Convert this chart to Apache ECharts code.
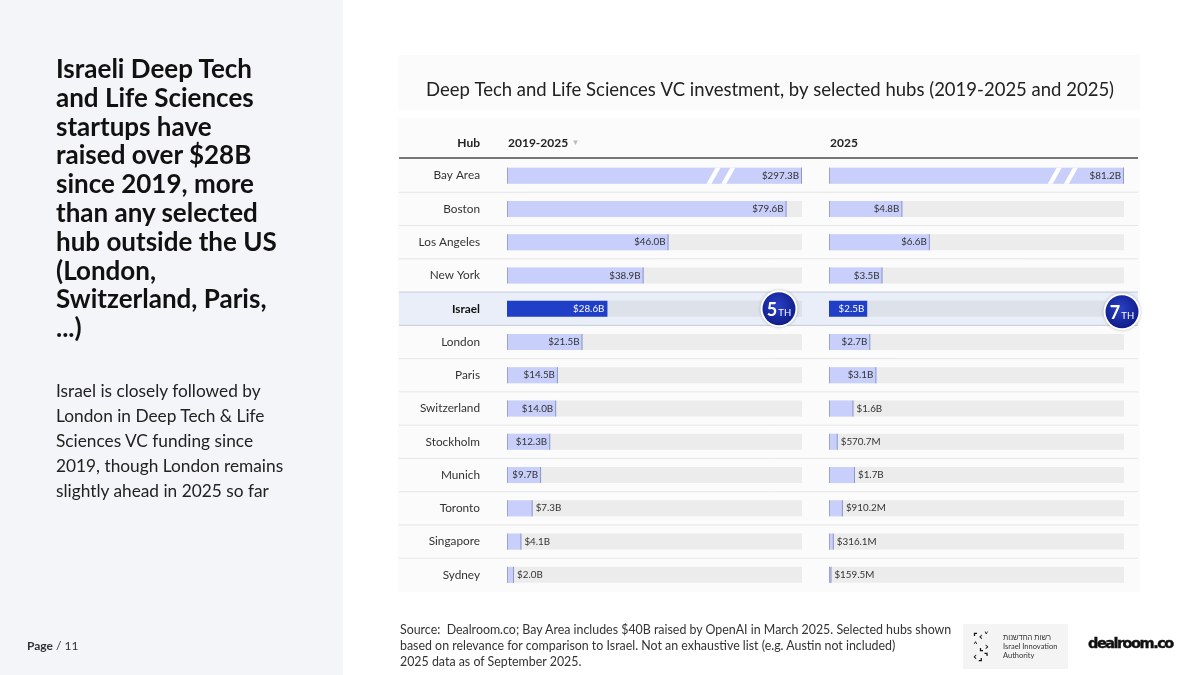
<!DOCTYPE html>
<html><head><meta charset="utf-8">
<script src="https://cdn.jsdelivr.net/npm/echarts@6/dist/echarts.min.js"></script>
<style>
html,body{margin:0;padding:0;width:1200px;height:675px;overflow:hidden;background:#fff;font-family:Lato,"Noto Sans",sans-serif;}
#leftpanel{position:absolute;left:0;top:0;width:343px;height:675px;background:#f4f5f9;}
#chart{position:absolute;left:0;top:0;width:1200px;height:675px;}
.txt{position:absolute;white-space:nowrap;}
#headline{left:56px;top:54px;font-weight:700;font-size:26px;line-height:28.8px;color:#111;}
#bodytext{left:56px;top:378px;font-size:17.3px;line-height:25px;color:#222;}
#page{left:27px;top:638px;font-size:12px;color:#333;}
#source{left:400px;top:622px;font-size:12.4px;line-height:16px;color:#333;}
#iia{left:963px;top:624px;width:105px;height:45px;background:#f4f4f4;}
#iia .icon{position:absolute;left:10px;top:8px;font-size:10px;line-height:10px;font-weight:900;color:#111;letter-spacing:1px;font-family:"DejaVu Sans",sans-serif;}
#iia .name{position:absolute;left:40px;top:9px;font-size:7.5px;line-height:9px;color:#333;}
#dealroom{left:1088px;top:635px;font-family:"DejaVu Sans",sans-serif;font-weight:900;font-size:14.5px;letter-spacing:-1.5px;color:#111;-webkit-text-stroke:0.4px #111;}
</style></head>
<body>
<div id="leftpanel"></div>
<div id="chart"></div>
<div class="txt" id="headline">Israeli Deep Tech<br>and Life Sciences<br>startups have<br>raised over $28B<br>since 2019, more<br>than any selected<br>hub outside the US<br>(London,<br>Switzerland, Paris,<br>...)</div>
<div class="txt" id="bodytext">Israel is closely followed by<br>London in Deep Tech &amp; Life<br>Sciences VC funding since<br>2019, though London remains<br>slightly ahead in 2025 so far</div>
<div class="txt" id="page"><b>Page</b> / 11</div>
<div class="txt" id="source">Source:&nbsp; Dealroom.co; Bay Area includes $40B raised by OpenAI in March 2025. Selected hubs shown<br>based on relevance for comparison to Israel. Not an exhaustive list (e.g. Austin not included)<br>2025 data as of September 2025.</div>
<div class="txt" id="iia"><div class="icon">⌜‹˅<br>˄⌞›<br>‹⌟⌝</div><div class="name">רשות החדשנות<br>Israel Innovation<br>Authority</div></div>
<div class="txt" id="dealroom">dealroom.co</div>
<script>
// ---- data ----
const hubs = ['Bay Area','Boston','Los Angeles','New York','Israel','London','Paris','Switzerland','Stockholm','Munich','Toronto','Singapore','Sydney'];
const vc2019_2025 = [297.3,79.6,46.0,38.9,28.6,21.5,14.5,14.0,12.3,9.7,7.3,4.1,2.0]; // $B
const vc2025 = [81.2,4.8,6.6,3.5,2.5,2.7,3.1,1.6,0.5707,1.7,0.9102,0.3161,0.1595]; // $B
const columnTitles = ['2019-2025','2025'];
const highlightHub = 'Israel';
const israelRanks = [5,7];
const rankSuffix = 'TH';
const chartTitle = 'Deep Tech and Life Sciences VC investment, by selected hubs (2019-2025 and 2025)';

// ---- scales / style ----
const LEFT_MAX = 84, RIGHT_MAX = 19.3;
const FONT = 'Lato, "Noto Sans", sans-serif';
const GRID_TOP = 159, GRID_H = 432.5;

function fmt(v){ return v < 1 ? '$' + (v*1000).toFixed(1) + 'M' : '$' + v.toFixed(1) + 'B'; }

function renderRow(params, api){
  const idx = api.value(1);
  const p0 = api.coord([0, idx]), p1 = api.coord([1, idx]);
  const h = api.size([0,1])[1];
  const top = p0[1]-h/2, bot = p0[1]+h/2;
  const ch = [];
  if (hubs[idx] === highlightHub){
    ch.push({type:'rect', shape:{x:p0[0], y:top, width:p1[0]-p0[0], height:h}, style:{fill:'#e9eef8'}});
    ch.push({type:'line', shape:{x1:p0[0], y1:top, x2:p1[0], y2:top}, style:{stroke:'#c4cad8', lineWidth:1}});
    ch.push({type:'line', shape:{x1:p0[0], y1:bot, x2:p1[0], y2:bot}, style:{stroke:'#c4cad8', lineWidth:1}});
  } else if (idx < hubs.length-1 && hubs[idx+1] !== highlightHub){
    ch.push({type:'line', shape:{x1:p0[0], y1:bot, x2:p1[0], y2:bot}, style:{stroke:'#e6e6e6', lineWidth:1}});
  }
  return {type:'group', children:ch};
}

function makeBarRenderer(maxV, rank, breakFrac, badgeDx, badgeDy){
  return function(params, api){
    const v = api.value(0), idx = api.value(1);
    const hl = hubs[idx] === highlightHub;
    const s = api.coord([0, idx]), e = api.coord([maxV, idx]);
    const b = api.coord([Math.min(v, maxV), idx]);
    const bh = 16, y = s[1]-bh/2, cy = s[1];
    const ch = [];
    ch.push({type:'rect', shape:{x:s[0], y:y, width:e[0]-s[0], height:bh}, style:{fill: hl ? '#dce1ea' : '#ececec'}});
    ch.push({type:'rect', shape:{x:s[0], y:y, width:b[0]-s[0], height:bh}, style:{fill: hl ? '#1e3fc6' : '#c7cffa'}});
    if (!hl){
      ch.push({type:'line', shape:{x1:s[0]+0.5, y1:y, x2:s[0]+0.5, y2:y+bh}, style:{stroke:'#9aa4cf', lineWidth:1}});
      ch.push({type:'line', shape:{x1:b[0]-0.5, y1:y, x2:b[0]-0.5, y2:y+bh}, style:{stroke:'#8e99c9', lineWidth:1}});
    }
    if (v > maxV){
      breakFrac.forEach(f => {
        const x = s[0] + (e[0]-s[0])*f;
        ch.push({type:'polygon', shape:{points:[[x-7,y+bh],[x-2,y+bh],[x+7,y],[x+2,y]]}, style:{fill:'#ffffff'}});
      });
    }
    const w = b[0]-s[0];
    const inside = w >= 32;
    ch.push({type:'text', style:{
      x: inside ? b[0]-3 : b[0]+3, y: cy, text: fmt(v),
      align: inside ? 'right' : 'left', verticalAlign:'middle',
      fill: hl ? '#ffffff' : '#333333', font: '9.8px ' + FONT
    }});
    if (hl){
      const bx = e[0] + badgeDx, by = cy + badgeDy;
      ch.push({type:'circle', shape:{cx:bx, cy:by, r:18.5}, style:{fill:'#ffffff', shadowBlur:3, shadowColor:'rgba(0,0,0,0.25)'}});
      ch.push({type:'circle', shape:{cx:bx, cy:by, r:16.5}, style:{fill:{type:'radial', x:0.45, y:0.4, r:0.6, colorStops:[{offset:0,color:'#2a41c6'},{offset:1,color:'#0f1c8a'}]}}});
      ch.push({type:'text', style:{x:bx, y:by, text:'{n|'+rank+'}{s|'+rankSuffix+'}', align:'center', verticalAlign:'middle',
        rich:{n:{fontSize:18, fontWeight:'bold', fill:'#fff', fontFamily:FONT, lineHeight:20, verticalAlign:'bottom'},
              s:{fontSize:9.5, fill:'#fff', fontFamily:FONT, lineHeight:18, verticalAlign:'bottom', padding:[0,0,1,1]}}}});
    }
    return {type:'group', children:ch};
  };
}

const chart = echarts.init(document.getElementById('chart'), null, {renderer:'canvas'});
const catAxis = (gi, show) => ({
  type:'category', gridIndex:gi, data:hubs, inverse:true, z:20,
  axisLine:{show:false}, axisTick:{show:false}, splitLine:{show:false},
  axisLabel:{show:show, margin:27, fontSize:11.8, color:'#333', fontFamily:FONT,
    formatter: v => v === highlightHub ? '{b|'+v+'}' : v,
    rich:{b:{fontWeight:'bold', color:'#111', fontSize:11.8, fontFamily:FONT}}}
});
const valAxis = (gi, max) => ({type:'value', gridIndex:gi, min:0, max:max, show:false});

chart.setOption({
  animation:false,
  grid:[
    {left:399, width:739, top:GRID_TOP, height:GRID_H},
    {left:507, width:295, top:GRID_TOP, height:GRID_H},
    {left:829, width:295, top:GRID_TOP, height:GRID_H}
  ],
  xAxis:[valAxis(0,1), valAxis(1,LEFT_MAX), valAxis(2,RIGHT_MAX)],
  yAxis:[catAxis(0,false), catAxis(1,true), catAxis(2,false)],
  graphic:[
    {type:'rect', z:-10, shape:{x:398, y:55, width:742, height:55}, style:{fill:'#fbfbfb'}},
    {type:'rect', z:-10, shape:{x:398, y:118, width:742, height:474}, style:{fill:'#fbfbfb'}},
    {type:'text', x:770, y:90, style:{text:chartTitle, align:'center', verticalAlign:'middle', font:'18.5px '+FONT, fill:'#222'}},
    {type:'text', x:480, y:143, style:{text:'Hub', align:'right', verticalAlign:'middle', font:'bold 12px '+FONT, fill:'#222'}},
    {type:'text', x:508, y:143, style:{text:'{a|'+columnTitles[0]+'} {t|▼}', verticalAlign:'middle',
      rich:{a:{fontWeight:'bold', fontSize:12, fontFamily:FONT, fill:'#222'}, t:{fontSize:8, fill:'#bbb'}}}},
    {type:'text', x:830, y:143, style:{text:columnTitles[1], verticalAlign:'middle', font:'bold 12px '+FONT, fill:'#222'}},
    {type:'line', shape:{x1:399, y1:158, x2:1138, y2:158}, style:{stroke:'#4a4a4a', lineWidth:1.5}}
  ],
  series:[
    {type:'custom', xAxisIndex:0, yAxisIndex:0, z:1, renderItem:renderRow, data:hubs.map((h,i)=>[1,i])},
    {type:'custom', xAxisIndex:1, yAxisIndex:1, z:5, renderItem:makeBarRenderer(LEFT_MAX, israelRanks[0], [0.70,0.75], -23, 0), data:vc2019_2025.map((v,i)=>[v,i])},
    {type:'custom', xAxisIndex:2, yAxisIndex:2, z:5, renderItem:makeBarRenderer(RIGHT_MAX, israelRanks[1], [0.765,0.82], -2, 3), data:vc2025.map((v,i)=>[v,i])}
  ]
});
</script>
</body></html>
